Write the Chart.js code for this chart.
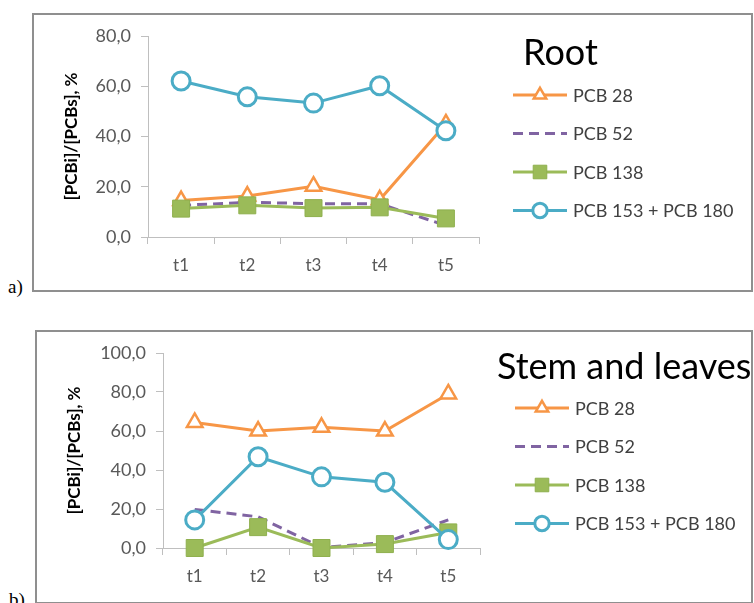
<!DOCTYPE html>
<html>
<head>
<meta charset="utf-8">
<script src="https://cdn.jsdelivr.net/npm/chart.js@4/dist/chart.umd.min.js"></script>
<style>
  html, body { margin: 0; padding: 0; background: #fff; }
  body { width: 754px; height: 603px; position: relative; overflow: hidden; }
  .frame { position: absolute; box-sizing: border-box; border: 2px solid #8f8f8f; }
  canvas { position: absolute; }
  .tag { position: absolute; font-family: "Liberation Serif", "DejaVu Serif", serif; font-size: 19px; color: #000; }
</style>
</head>
<body>
<div class="frame" style="left:32px;top:13px;width:721px;height:279px;"></div>
<div class="frame" style="left:35px;top:330px;width:718px;height:274px;"></div>
<canvas id="rootChart" width="721" height="278" style="left:32px;top:13px;"></canvas>
<canvas id="stemChart" width="717" height="272" style="left:35px;top:330px;"></canvas>
<div class="tag" style="left:8px;top:276px;">a)</div>
<div class="tag" style="left:9px;top:589px;">b)</div>
<script>
// Sampling times
const categories = ['t1', 't2', 't3', 't4', 't5'];
const seriesNames = ['PCB 28', 'PCB 52', 'PCB 138', 'PCB 153 + PCB 180'];

// Root: share of each congener in total PCBs, %
const rootPCB28 = [14.5, 16.3, 20.2, 14.8, 45.0];
const rootPCB52 = [12.6, 13.8, 13.3, 13.2, 4.6];
const rootPCB138 = [11.3, 12.6, 11.5, 11.8, 7.4];
const rootPCB153_180 = [62.1, 55.8, 53.3, 60.2, 42.3];

// Stem and leaves: share of each congener in total PCBs, %
const stemPCB28 = [64.4, 60.0, 61.9, 60.0, 79.0];
const stemPCB52 = [19.8, 16.0, 0.3, 2.8, 14.4];
const stemPCB138 = [0.0, 10.7, 0.0, 2.0, 8.0];
const stemPCB153_180 = [14.4, 46.8, 36.5, 33.7, 4.3];

// Value axis ranges
const rootAxisMax = 80;
const stemAxisMax = 100;
const axisStep = 20;

const FONT = 'Lato, "Open Sans", sans-serif';
const C_ORANGE = '#f79646';
const C_PURPLE = '#8064a2';
const C_GREEN = '#9bbb59';
const C_BLUE = '#4bacc6';

function makeDatasets(v28, v52, v138, v153) {
  return [
    { label: seriesNames[0], data: v28, borderColor: C_ORANGE, backgroundColor: '#ffffff',
      borderWidth: 3, pointStyle: 'triangle', pointRadius: 9, pointBorderWidth: 2.5,
      pointBackgroundColor: '#ffffff', pointBorderColor: C_ORANGE, order: 3, clip: false },
    { label: seriesNames[1], data: v52, borderColor: C_PURPLE, backgroundColor: C_PURPLE,
      borderWidth: 3, borderDash: [10, 6], pointRadius: 0, order: 2, clip: false },
    { label: seriesNames[2], data: v138, borderColor: C_GREEN, backgroundColor: C_GREEN,
      borderWidth: 3, pointStyle: 'rect', pointRadius: 12, pointBorderWidth: 1,
      pointBackgroundColor: C_GREEN, pointBorderColor: '#8fb04e', order: 1, clip: false },
    { label: seriesNames[3], data: v153, borderColor: C_BLUE, backgroundColor: '#ffffff',
      borderWidth: 3, pointStyle: 'circle', pointRadius: 9, pointBorderWidth: 3,
      pointBackgroundColor: '#ffffff', pointBorderColor: C_BLUE, order: 0, clip: false }
  ];
}

// Draws the panel heading and a line-and-marker legend beside the plot
const panelDecor = {
  id: 'panelDecor',
  afterDraw(chart, args, opts) {
    const ctx = chart.ctx;
    ctx.save();
    ctx.fillStyle = '#000';
    ctx.font = opts.titleSize + 'px ' + FONT;
    ctx.textAlign = 'left';
    ctx.textBaseline = 'middle';
    ctx.fillText(opts.title, opts.titleX, opts.titleY);

    chart.data.datasets.forEach((ds, i) => {
      const y = opts.legendY + i * opts.legendGap;
      const x0 = opts.legendX, x1 = opts.legendX + 54;
      ctx.save();
      ctx.strokeStyle = ds.borderColor;
      ctx.lineWidth = ds.borderWidth;
      ctx.setLineDash(ds.borderDash || []);
      ctx.beginPath();
      ctx.moveTo(x0, y);
      ctx.lineTo(x1, y);
      ctx.stroke();
      ctx.setLineDash([]);
      if (ds.pointRadius > 0) {
        ctx.fillStyle = ds.pointBackgroundColor;
        ctx.strokeStyle = ds.pointBorderColor;
        ctx.lineWidth = ds.pointBorderWidth;
        Chart.helpers.drawPoint(ctx, {
          pointStyle: ds.pointStyle, radius: ds.pointRadius * 0.8,
          rotation: 0, borderWidth: ds.pointBorderWidth
        }, (x0 + x1) / 2, y);
      }
      ctx.restore();
      ctx.fillStyle = '#404040';
      ctx.font = '18px ' + FONT;
      ctx.textBaseline = 'middle';
      ctx.fillText(ds.label, x1 + 6, y + 1);
    });
    ctx.restore();
  }
};

function buildChart(id, datasets, axisMax, pad, decor) {
  return new Chart(document.getElementById(id), {
    type: 'line',
    data: { labels: categories, datasets: datasets },
    plugins: [panelDecor],
    options: {
      responsive: false,
      animation: false,
      devicePixelRatio: 1,
      layout: { padding: { left: pad.left, right: pad.right, top: pad.top, bottom: 0 } },
      plugins: { legend: { display: false }, tooltip: { enabled: false }, panelDecor: decor },
      elements: { line: { tension: 0 } },
      scales: {
        x: {
          offset: true,
          grid: { display: true, offset: true, drawOnChartArea: false, drawTicks: true,
                  tickLength: 7, color: '#bfbfbf', lineWidth: 1 },
          border: { display: true, color: '#bfbfbf', width: 1 },
          ticks: { color: '#595959', font: { family: FONT, size: 17 }, padding: 11 },
          afterFit(scale) { scale.height = pad.xHeight; }
        },
        y: {
          min: 0, max: axisMax,
          grid: { display: true, drawOnChartArea: false, drawTicks: true,
                  tickLength: 7, color: '#bfbfbf', lineWidth: 1 },
          border: { display: true, color: '#bfbfbf', width: 1 },
          ticks: { stepSize: axisStep, color: '#595959', font: { family: FONT, size: 18 }, padding: 10,
                   callback: v => v.toFixed(1).replace('.', ',') },
          title: { display: true, text: '[PCBi]/[PCBs], %', color: '#000',
                   font: { family: FONT, size: 17, weight: 'bold' }, padding: 0 },
          afterFit(scale) { scale.width = pad.yWidth; }
        }
      }
    }
  });
}

buildChart('rootChart',
  makeDatasets(rootPCB28, rootPCB52, rootPCB138, rootPCB153_180),
  rootAxisMax,
  { left: 29, right: 274, top: 23, yWidth: 87, xHeight: 54 },
  { title: 'Root', titleSize: 36, titleX: 491, titleY: 40,
    legendX: 481, legendY: 82, legendGap: 38.5 });

buildChart('stemChart',
  makeDatasets(stemPCB28, stemPCB52, stemPCB138, stemPCB153_180),
  stemAxisMax,
  { left: 29, right: 272, top: 23, yWidth: 99, xHeight: 54 },
  { title: 'Stem and leaves', titleSize: 36, titleX: 462, titleY: 37,
    legendX: 480, legendY: 78, legendGap: 38.5 });
</script>
</body>
</html>
